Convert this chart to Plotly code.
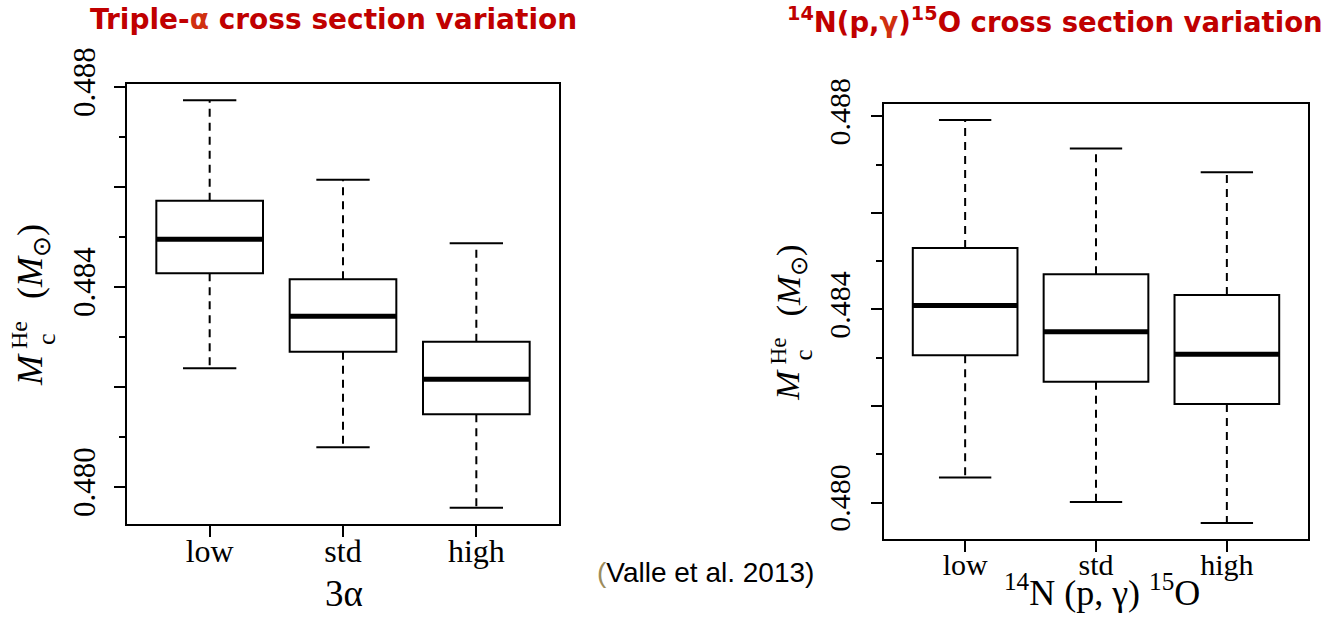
import plotly.graph_objects as go

# ---------------------------------------------------------------------------
# Data: helium-core mass at the RGB tip for three reaction-rate choices
# ---------------------------------------------------------------------------
categories = ["low", "std", "high"]

# Triple-alpha rate variation
tri_upper = [0.48773, 0.48614, 0.48487]
tri_q3 = [0.48572, 0.48415, 0.48290]
tri_median = [0.48495, 0.48341, 0.48215]
tri_q1 = [0.48427, 0.48270, 0.48145]
tri_lower = [0.48237, 0.48079, 0.47958]

# 14N(p,gamma)15O rate variation
n14_upper = [0.48792, 0.48733, 0.48684]
n14_q3 = [0.48527, 0.48473, 0.48430]
n14_median = [0.48408, 0.48354, 0.48307]
n14_q1 = [0.48305, 0.48250, 0.48204]
n14_lower = [0.48052, 0.48001, 0.47958]

major_ticks = [0.480, 0.482, 0.484, 0.486, 0.488]
major_labels = ["0.480", "", "0.484", "", "0.488"]
minor_step = 0.001

W, H = 1327, 619
BOX_HALF = 0.4
CAP_HALF = 0.2
SERIF = "Liberation Serif"


def fx(px):
    return px / W


def fy(py):
    return 1 - py / H


def r_range(lo_vals, hi_vals):
    lo, hi = min(lo_vals), max(hi_vals)
    pad = 0.04 * (hi - lo)
    return [lo - pad, hi + pad]


fig = go.Figure()


def add_panel(xa, ya, upper, q3, med, q1, lower):
    xs = list(range(1, len(categories) + 1))
    fig.add_trace(go.Box(
        x=xs, q1=q1, median=med, q3=q3, lowerfence=q1, upperfence=q3,
        width=2 * BOX_HALF, fillcolor="white", boxpoints=False,
        line=dict(color="black", width=2), xaxis=xa, yaxis=ya,
        hoverinfo="skip", showlegend=False))
    wx, wy, cx, cy, mx, my = [], [], [], [], [], []
    for i, x in enumerate(xs):
        wx += [x, x, None, x, x, None]
        wy += [q3[i], upper[i], None, q1[i], lower[i], None]
        cx += [x - CAP_HALF, x + CAP_HALF, None, x - CAP_HALF, x + CAP_HALF, None]
        cy += [upper[i], upper[i], None, lower[i], lower[i], None]
        mx += [x - BOX_HALF, x + BOX_HALF, None]
        my += [med[i], med[i], None]
    fig.add_trace(go.Scatter(x=wx, y=wy, mode="lines", xaxis=xa, yaxis=ya,
                             line=dict(color="black", width=2, dash="8px,6px"),
                             hoverinfo="skip", showlegend=False))
    fig.add_trace(go.Scatter(x=cx, y=cy, mode="lines", xaxis=xa, yaxis=ya,
                             line=dict(color="black", width=2),
                             hoverinfo="skip", showlegend=False))
    fig.add_trace(go.Scatter(x=mx, y=my, mode="lines", xaxis=xa, yaxis=ya,
                             line=dict(color="black", width=5),
                             hoverinfo="skip", showlegend=False))


add_panel("x", "y", tri_upper, tri_q3, tri_median, tri_q1, tri_lower)
add_panel("x2", "y2", n14_upper, n14_q3, n14_median, n14_q1, n14_lower)


def xaxis_style(domain, anchor, size):
    return dict(domain=domain, anchor=anchor, range=[0.38, 3.62], tickmode="array",
                tickvals=[1, 2, 3], ticktext=categories, ticks="outside",
                ticklen=11, tickwidth=2, tickcolor="black", showline=True,
                mirror=True, linecolor="black", linewidth=2, showgrid=False,
                zeroline=False, automargin=False, ticklabelstandoff=-13,
                tickfont=dict(family=SERIF, size=size, color="black"))


def yaxis_style(domain, anchor, rng, size, standoff):
    return dict(domain=domain, anchor=anchor, range=rng, tickmode="array",
                tickvals=major_ticks, ticktext=major_labels, tickangle=-90,
                ticks="outside", ticklen=11, tickwidth=2, tickcolor="black",
                minor=dict(tickmode="linear", tick0=major_ticks[0], dtick=minor_step,
                           ticks="outside", ticklen=6, tickwidth=2, tickcolor="black",
                           showgrid=False),
                showline=True, mirror=True, linecolor="black", linewidth=2,
                showgrid=False, zeroline=False, automargin=False,
                ticklabelstandoff=standoff,
                tickfont=dict(family=SERIF, size=size, color="black"))


fig.update_layout(
    template="none",
    width=W, height=H, margin=dict(l=0, r=0, t=0, b=0, autoexpand=False),
    paper_bgcolor="white", plot_bgcolor="white",
    xaxis=xaxis_style([fx(127), fx(559)], "y", 32),
    yaxis=yaxis_style([fy(524), fy(84)], "x", r_range(tri_lower, tri_upper), 31, 7),
    xaxis2=xaxis_style([fx(884), fx(1308)], "y2", 30),
    yaxis2=yaxis_style([fy(539), fy(104)], "x2", r_range(n14_lower, n14_upper), 30, 9),
)

annotations = []


def note(text, x, y, size, family=SERIF, color="black", angle=0, xanchor="center"):
    annotations.append(dict(text=text, x=fx(x), y=fy(y), xref="paper", yref="paper",
                            showarrow=False, xanchor=xanchor, yanchor="middle",
                            textangle=angle, font=dict(family=family, size=size, color=color)))


# Panel titles
TITLE_FONT = "DejaVu Sans"
note("<b>Triple-<span style='color:#D03010'>α</span> cross section variation</b>",
     333, 20, 28, family=TITLE_FONT, color="#C00000")
note("<b><sup>14</sup>N(p,<span style='color:#D03010'>γ</span>)<sup>15</sup>O cross section variation</b>",
     1325, 20, 27.5, family=TITLE_FONT, color="#C00000", xanchor="right")

# x-axis titles
note("3α", 344, 593, 37)
note("<sup>14</sup>N (p, γ) <sup>15</sup>O", 1102, 590, 36)


# y-axis titles: M_c^He (M_sun) with stacked sub/superscript
def y_title(cx, cy, s):
    note("<i>M</i>", cx - 5 * s, cy + 66 * s, 36 * s, angle=-90)
    note("He", cx - 16 * s, cy + 31 * s, 24 * s, angle=-90)
    note("c", cx + 11 * s, cy + 35 * s, 26 * s, angle=-90)
    note("(<i>M</i><sub>⊙</sub>)", cx - 3 * s, cy - 42 * s, 36 * s, angle=-90)


y_title(35, 304, 1.0)
y_title(793, 321, 0.965)

# citation
note("<span style='color:#9C8C5C'>(</span>Valle et al. 2013)", 705, 572, 28,
     family="Liberation Sans")

fig.update_layout(annotations=annotations)

fig.write_html("out.html")
